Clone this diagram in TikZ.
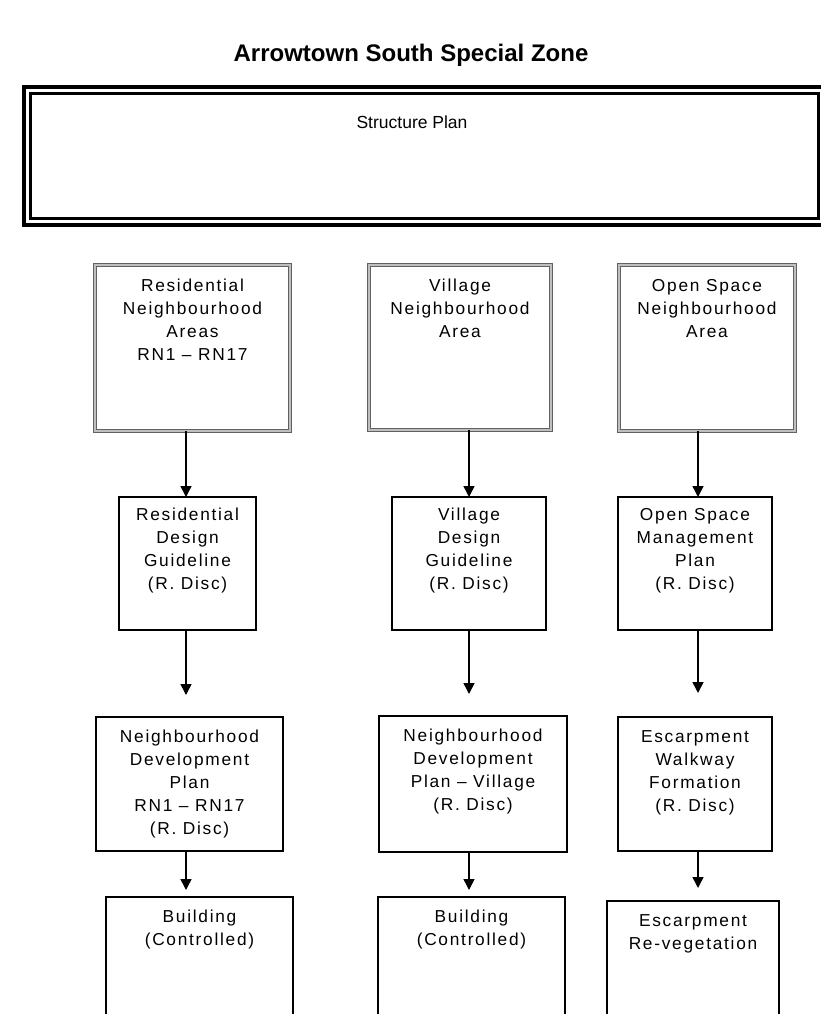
\documentclass[tikz,border=0pt]{standalone}
\usepackage{fontspec}
\setmainfont{Liberation Sans}
\newfontfamily\boxfont[LetterSpace=10]{Liberation Sans}
\usetikzlibrary{arrows.meta,calc,fit}
\begin{document}
\begin{tikzpicture}[x=1pt,y=-1pt,
  box/.style={draw=black, line width=1.8pt, inner sep=0pt, outer sep=0pt},
  topbox/.style={draw=black!62, double=black!25, double distance=1.3pt, line width=1.7pt, inner sep=0pt, outer sep=0pt},
  txt/.style={font=\boxfont\fontsize{17.3}{23}\selectfont, align=center, inner sep=0pt, anchor=north},
  arr/.style={line width=1.5pt, -{Triangle[width=11pt,length=11pt]}}]
\useasboundingbox (0,0) rectangle (821,1014);
\fill[white] (0,0) rectangle (821,1014);
\clip (0,0) rectangle (821,1014);

% title
\node[font=\bfseries\fontsize{24}{28}\selectfont] (title) at (411,55) {Arrowtown South Special Zone};

% structure plan
\node[draw=black, line width=4.3pt, inner sep=0pt, fit={(24,87) (828,225)}] (sp) {};
\node[draw=black, line width=2.7pt, inner sep=0pt, fit={(30.7,93.3) (818.3,218.3)}] (spin) {};
\node[font=\fontsize{17.5}{20}\selectfont] (sptext) at (412,122) {Structure Plan};

% column x coordinates for connectors
\coordinate (x1) at (186,0);
\coordinate (x2) at (469,0);
\coordinate (x3) at (698,0);

% row 1
\node[topbox, fit={(95,265) (290,431)}] (c11) {};
\node[topbox, fit={(369,265) (551,430)}] (c21) {};
\node[topbox, fit={(619,265) (795,431)}] (c31) {};
% row 2
\node[box, fit={(119,497) (256,630)}] (c12) {};
\node[box, fit={(392,497) (546,630)}] (c22) {};
\node[box, fit={(618,497) (772,630)}] (c32) {};
% row 3
\node[box, fit={(96,717) (283,851)}] (c13) {};
\node[box, fit={(379,716) (567,852)}] (c23) {};
\node[box, fit={(618,717) (772,851)}] (c33) {};
% row 4 (cut off by the page edge)
\node[box, fit={(106,897) (293,1040)}] (c14) {};
\node[box, fit={(378,897) (565,1040)}] (c24) {};
\node[box, fit={(607,901) (779,1040)}] (c34) {};

% texts
\node[txt] (t11) at ($(c11.north)+(0,14)$) {Residential\\Neighbourhood\\Areas\\RN1 – RN17};
\node[txt] (t21) at ($(c21.north)+(0,14)$) {Village\\Neighbourhood\\Area};
\node[txt] (t31) at ($(c31.north)+(0,14)$) {Open Space\\Neighbourhood\\Area};
\node[txt] (t12) at ($(c12.north)+(0,11)$) {Residential\\Design\\Guideline\\(R. Disc)};
\node[txt] (t22) at ($(c22.north)+(0,11)$) {Village\\Design\\Guideline\\(R. Disc)};
\node[txt] (t32) at ($(c32.north)+(0,11)$) {Open Space\\Management\\Plan\\(R. Disc)};
\node[txt] (t13) at ($(c13.north)+(0,13)$) {Neighbourhood\\Development\\Plan\\RN1 – RN17\\(R. Disc)};
\node[txt] (t23) at ($(c23.north)+(0,13)$) {Neighbourhood\\Development\\Plan – Village\\(R. Disc)};
\node[txt] (t33) at ($(c33.north)+(0,13)$) {Escarpment\\Walkway\\Formation\\(R. Disc)};
\node[txt] (t14) at ($(c14.north)+(0,13)$) {Building\\(Controlled)};
\node[txt] (t24) at ($(c24.north)+(0,13)$) {Building\\(Controlled)};
\node[txt] (t34) at ($(c34.north)+(0,13)$) {Escarpment\\Re-vegetation};

% arrow end points
\coordinate (e13) at ($(c13.north)+(0,-22)$);
\coordinate (e23) at ($(c23.north)+(0,-22)$);
\coordinate (e33) at ($(c33.north)+(0,-24)$);
\coordinate (e14) at ($(c14.north)+(0,-7)$);
\coordinate (e24) at ($(c24.north)+(0,-7)$);
\coordinate (e34) at ($(c34.north)+(0,-13)$);

% connectors
\draw[arr] (c11.south -| x1) -- (c12.north -| x1);
\draw[arr] (c21.south -| x2) -- (c22.north -| x2);
\draw[arr] (c31.south -| x3) -- (c32.north -| x3);
\draw[arr] (c12.south -| x1) -- (e13 -| x1);
\draw[arr] (c22.south -| x2) -- (e23 -| x2);
\draw[arr] (c32.south -| x3) -- (e33 -| x3);
\draw[arr] (c13.south -| x1) -- (e14 -| x1);
\draw[arr] (c23.south -| x2) -- (e24 -| x2);
\draw[arr] (c33.south -| x3) -- (e34 -| x3);
\end{tikzpicture}
\end{document}
